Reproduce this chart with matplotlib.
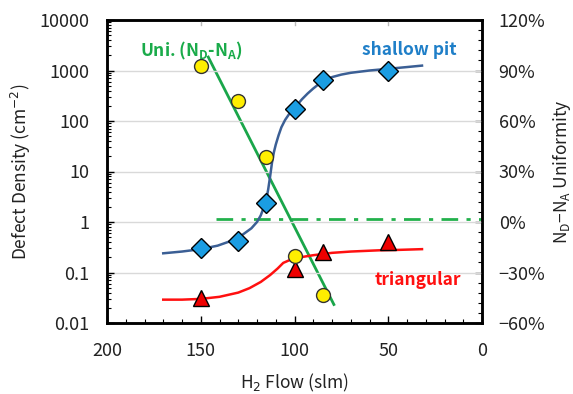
import matplotlib
matplotlib.use("Agg")
import matplotlib.pyplot as plt
from matplotlib.ticker import FixedLocator, NullFormatter, FuncFormatter

plt.rcParams['font.family'] = ['Noto Sans CJK JP', 'DejaVu Sans']

# shallow pit density (cm^-2)
pit_x = [150, 130, 115, 100, 85, 50]
pit_y = [0.30, 0.43, 2.4, 170, 650, 1000]
pit_fit_x = [170, 160, 150, 141, 134, 128, 123, 120, 118, 116.5, 115, 114, 113, 112, 111, 110,
             108.5, 107, 105, 103, 101, 99, 96, 93, 90, 87, 84, 80, 75, 70, 60, 50, 40, 32]
pit_fit_y = [0.24, 0.26, 0.29, 0.34, 0.42, 0.55, 0.75, 1.0, 1.35, 1.9, 2.8, 4.5, 8, 15, 24, 34,
             52, 75, 105, 135, 162, 200, 270, 350, 440, 540, 640, 740, 830, 900, 1000, 1080, 1170, 1250]

# triangular defect density (cm^-2)
tri_x = [150, 100, 85, 50]
tri_y = [0.031, 0.12, 0.26, 0.41]
tri_fit_x = [170, 160, 150, 140, 130, 124, 118, 113, 109, 106, 102, 97, 90, 80, 70, 55, 45, 32]
tri_fit_y = [0.029, 0.029, 0.030, 0.033, 0.040, 0.049, 0.065, 0.089, 0.12, 0.155, 0.18, 0.20, 0.22, 0.245, 0.26, 0.275, 0.28, 0.29]

# ND-NA uniformity (%)
uni_x = [150, 130, 115, 100, 85]
uni_y = [92.7, 71.9, 38.6, -20.2, -43.4]
uni_fit_x = [146, 79]
uni_fit_y = [98, -49]
uni_ref_x = [142, 0]
uni_ref_y = [2, 2]

fig = plt.figure(figsize=(5.73, 3.94), dpi=100)
ax = fig.add_axes([107/573, 1 - 323/394, 375/573, 303/394])
ax2 = ax.twinx()

ax.set_zorder(1)
ax.patch.set_visible(False)

ax.set_yscale('log')
ax.set_ylim(0.01, 10000)
ax.set_xlim(200, 0)
ax2.set_ylim(-60, 120)

for v in [0.1, 1, 10, 100, 1000]:
    ax.axhline(v, color='#d9d9d9', lw=1, zorder=0)

# right axis: uniformity
ax2.plot(uni_ref_x, uni_ref_y, color='#22b14c', lw=2, ls=(0, (6, 3, 1.5, 3)))
ax2.plot(uni_fit_x, uni_fit_y, color='#1aa64a', lw=2)

# left axis: densities
ax.plot(pit_fit_x, pit_fit_y, color='#3b5f95', lw=1.8, zorder=2)
ax.plot(tri_fit_x, tri_fit_y, color='#ff1010', lw=1.8, zorder=2)
ax.plot(pit_x, pit_y, ls='none', marker='D', ms=10, mfc='#1b9de2', mec='black', mew=1, zorder=4)
ax.plot(tri_x, tri_y, ls='none', marker='^', ms=11, mfc='#ee0000', mec='black', mew=1, zorder=4)
ax.plot(uni_x, [10 ** (4 - (120 - u) / 30) for u in uni_y], ls='none', marker='o', ms=10,
        mfc='#ffee00', mec='#333333', mew=1, zorder=5)

ax.text(155, 1500, 'Uni. (N$_\\mathregular{D}$-N$_\\mathregular{A}$)', color='#1aab4a',
        fontsize=12.5, fontweight='bold', ha='center', va='bottom', zorder=6)
ax.text(39, 1700, 'shallow pit', color='#1f7fc8', fontsize=12.5, fontweight='bold',
        ha='center', va='bottom', zorder=6)
ax.text(34, 0.072, 'triangular', color='#ff1010', fontsize=12.5, fontweight='bold',
        ha='center', va='center', zorder=6)

# ticks
ax.set_xticks([200, 150, 100, 50, 0])
ax.xaxis.set_minor_locator(FixedLocator(list(range(0, 201, 10))))
ax.set_yticks([0.01, 0.1, 1, 10, 100, 1000, 10000])
ax.set_yticklabels(['0.01', '0.1', '1', '10', '100', '1000', '10000'])
ax.yaxis.set_minor_formatter(NullFormatter())
ax.tick_params(axis='both', which='major', direction='in', length=5, width=1, labelsize=13,
               labelcolor='#222222', pad=13)
ax.tick_params(axis='both', which='minor', direction='in', length=3, width=0.8)
ax.tick_params(axis='x', top=False, pad=14)

ax2.set_yticks([-60, -30, 0, 30, 60, 90, 120])
ax2.yaxis.set_minor_locator(FixedLocator(list(range(-60, 121, 6))))
ax2.yaxis.set_major_formatter(FuncFormatter(lambda v, p: f'{v:.0f}%'.replace('-', '\u2212')))
ax2.tick_params(axis='y', which='major', direction='in', length=5, width=1, labelsize=13,
                labelcolor='#222222', pad=12)
ax2.tick_params(axis='y', which='minor', direction='in', length=3, width=0.8)

for x in [150, 100, 50]:
    ax.plot([x, x], [10000, 10000 / 1.25], color='#bbbbbb', lw=1, zorder=0)

for s in ax2.spines.values():
    s.set_linewidth(1.8)
for s in ax.spines.values():
    s.set_linewidth(1.8)

ax.set_xlabel('H$_2$ Flow (slm)', fontsize=12.5, color='#222222', labelpad=8)
ax.set_ylabel('Defect Density (cm$^{-2}$)', fontsize=12.5, color='#222222', labelpad=4)
ax2.set_ylabel('N$_\\mathregular{D}$\u2212N$_\\mathregular{A}$ Uniformity', fontsize=12.5,
               color='#222222', labelpad=4)

fig.savefig('out.png', dpi=100)
